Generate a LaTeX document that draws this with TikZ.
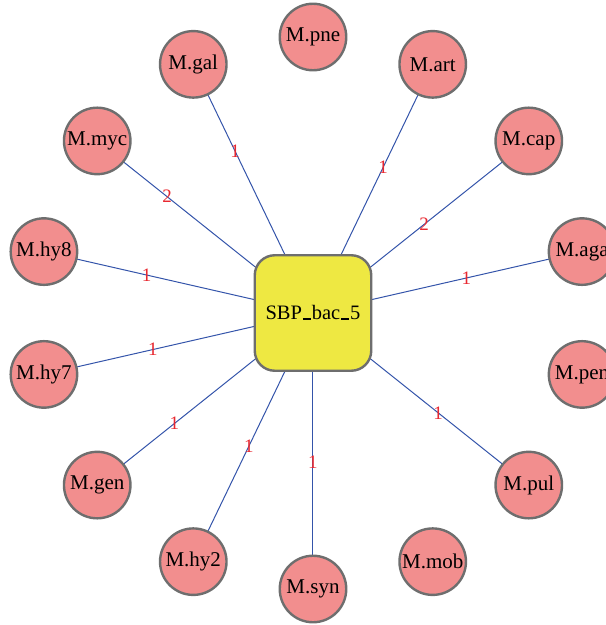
\documentclass[tikz,border=0pt]{standalone}
\usepackage{fontspec}
\setmainfont{Liberation Serif}
\usetikzlibrary{backgrounds}
\definecolor{nodepink}{RGB}{242,142,142}
\definecolor{hubyellow}{RGB}{238,232,66}
\definecolor{bordergrey}{RGB}{110,110,110}
\definecolor{edgeblue}{RGB}{52,84,170}
\definecolor{labelred}{RGB}{232,40,48}
\newcommand{\lowbar}{\kern0.04em\rule[-0.02em]{0.4em}{0.09em}\kern0.04em}
\tikzset{
  species/.style={circle, draw=bordergrey, fill=nodepink, line width=2.4pt,
    minimum size=66.5pt, inner sep=0pt, font=\fontsize{21}{21}\selectfont},
  hub/.style={rectangle, rounded corners=20pt, draw=bordergrey, fill=hubyellow,
    line width=2.4pt, minimum width=116.5pt, minimum height=115.5pt, inner sep=0pt,
    font=\fontsize{20.5}{20.5}\selectfont},
  link/.style={draw=edgeblue, line width=1.0pt},
  wlabel/.style={text=labelred, font=\fontsize{19}{19}\selectfont, inner sep=0pt}
}
\begin{document}
\begin{tikzpicture}[x=1pt,y=1pt]
\useasboundingbox (-313,-312) rectangle (293,313);
\node[hub] (c) at (0,0) {SBP\lowbar bac\lowbar 5};
\node[species] (pne) at (90:276) {M.pne};
\node[species] (art) at (64.29:276) {M.art};
\node[species] (cap) at (38.57:276) {M.cap};
\node[species] (aga) at (12.86:276) {M.aga};
\node[species] (pen) at (-12.86:276) {M.pen};
\node[species] (pul) at (-38.57:276) {M.pul};
\node[species] (mob) at (-64.29:276) {M.mob};
\node[species] (syn) at (-90:276) {M.syn};
\node[species] (hy2) at (-115.71:276) {M.hy2};
\node[species] (gen) at (-141.43:276) {M.gen};
\node[species] (hy7) at (-167.14:276) {M.hy7};
\node[species] (hy8) at (167.14:276) {M.hy8};
\node[species] (myc) at (141.43:276) {M.myc};
\node[species] (gal) at (115.71:276) {M.gal};
\begin{pgfonlayer}{background}
\draw[link] (c.center) -- node[wlabel, pos=0.585] {1} (art.center);
\draw[link] (c.center) -- node[wlabel, pos=0.515] {2} (cap.center);
\draw[link] (c.center) -- node[wlabel, pos=0.57] {1} (aga.center);
\draw[link] (c.center) -- node[wlabel, pos=0.58] {1} (pul.center);
\draw[link] (c.center) -- node[wlabel, pos=0.54] {1} (syn.center);
\draw[link] (c.center) -- node[wlabel, pos=0.535] {1} (hy2.center);
\draw[link] (c.center) -- node[wlabel, pos=0.642] {1} (gen.center);
\draw[link] (c.center) -- node[wlabel, pos=0.595] {1} (hy7.center);
\draw[link] (c.center) -- node[wlabel, pos=0.618] {1} (hy8.center);
\draw[link] (c.center) -- node[wlabel, pos=0.676] {2} (myc.center);
\draw[link] (c.center) -- node[wlabel, pos=0.65] {1} (gal.center);
\end{pgfonlayer}
\end{tikzpicture}
\end{document}
